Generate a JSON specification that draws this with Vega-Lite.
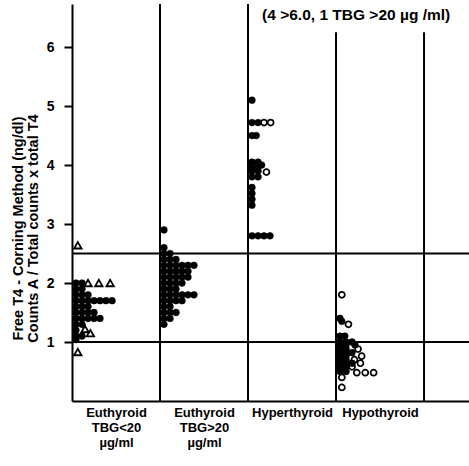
{
  "$schema": "https://vega.github.io/schema/vega-lite/v6.json",
  "autosize": {"type": "none"},
  "padding": {"left": 72, "top": 4, "right": 0, "bottom": 61},
  "width": 397,
  "height": 397,
  "background": "white",
  "config": {
    "view": {"stroke": null},
    "font": "Liberation Sans",
    "axis": {"labelFont": "Liberation Sans", "titleFont": "Liberation Sans", "labelColor": "black", "titleColor": "black", "domainColor": "black", "tickColor": "black"}
  },
  "datasets": {
    "pts": [
      {"g":"g1","x":0.066,"v":2.64,"t":"tri"},
      {"g":"g1","x":0.045,"v":2.0,"t":"f"},{"g":"g1","x":0.114,"v":2.0,"t":"f"},
      {"g":"g1","x":0.182,"v":2.0,"t":"tri"},{"g":"g1","x":0.305,"v":2.0,"t":"tri"},{"g":"g1","x":0.434,"v":2.0,"t":"tri"},
      {"g":"g1","x":0.045,"v":1.9,"t":"f"},{"g":"g1","x":0.114,"v":1.9,"t":"f"},
      {"g":"g1","x":0.045,"v":1.8,"t":"f"},{"g":"g1","x":0.114,"v":1.8,"t":"f"},{"g":"g1","x":0.182,"v":1.8,"t":"f"},
      {"g":"g1","x":0.045,"v":1.7,"t":"f"},{"g":"g1","x":0.114,"v":1.7,"t":"f"},{"g":"g1","x":0.182,"v":1.7,"t":"f"},{"g":"g1","x":0.25,"v":1.7,"t":"f"},{"g":"g1","x":0.318,"v":1.7,"t":"f"},{"g":"g1","x":0.386,"v":1.7,"t":"f"},{"g":"g1","x":0.455,"v":1.7,"t":"f"},
      {"g":"g1","x":0.045,"v":1.6,"t":"f"},{"g":"g1","x":0.114,"v":1.6,"t":"f"},{"g":"g1","x":0.182,"v":1.6,"t":"f"},
      {"g":"g1","x":0.045,"v":1.5,"t":"f"},{"g":"g1","x":0.114,"v":1.5,"t":"f"},{"g":"g1","x":0.182,"v":1.5,"t":"f"},{"g":"g1","x":0.25,"v":1.5,"t":"f"},
      {"g":"g1","x":0.045,"v":1.4,"t":"f"},{"g":"g1","x":0.114,"v":1.4,"t":"f"},{"g":"g1","x":0.182,"v":1.4,"t":"f"},{"g":"g1","x":0.25,"v":1.4,"t":"f"},{"g":"g1","x":0.318,"v":1.4,"t":"f"},
      {"g":"g1","x":0.045,"v":1.3,"t":"f"},{"g":"g1","x":0.114,"v":1.3,"t":"f"},
      {"g":"g1","x":0.045,"v":1.2,"t":"f"},{"g":"g1","x":0.148,"v":1.22,"t":"tri"},
      {"g":"g1","x":0.209,"v":1.15,"t":"tri"},
      {"g":"g1","x":0.045,"v":1.1,"t":"f"},{"g":"g1","x":0.114,"v":1.1,"t":"f"},
      {"g":"g1","x":0.045,"v":1.04,"t":"f"},
      {"g":"g1","x":0.066,"v":0.83,"t":"tri"},

      {"g":"g2","x":1.045,"v":2.9,"t":"f"},
      {"g":"g2","x":1.045,"v":2.6,"t":"f"},
      {"g":"g2","x":1.045,"v":2.5,"t":"f"},{"g":"g2","x":1.114,"v":2.5,"t":"f"},
      {"g":"g2","x":1.045,"v":2.4,"t":"f"},{"g":"g2","x":1.114,"v":2.4,"t":"f"},{"g":"g2","x":1.182,"v":2.4,"t":"f"},
      {"g":"g2","x":1.045,"v":2.3,"t":"f"},{"g":"g2","x":1.114,"v":2.3,"t":"f"},{"g":"g2","x":1.182,"v":2.3,"t":"f"},{"g":"g2","x":1.25,"v":2.3,"t":"f"},{"g":"g2","x":1.318,"v":2.3,"t":"f"},{"g":"g2","x":1.386,"v":2.3,"t":"f"},
      {"g":"g2","x":1.045,"v":2.2,"t":"f"},{"g":"g2","x":1.114,"v":2.2,"t":"f"},{"g":"g2","x":1.182,"v":2.2,"t":"f"},{"g":"g2","x":1.25,"v":2.2,"t":"f"},{"g":"g2","x":1.318,"v":2.2,"t":"f"},
      {"g":"g2","x":1.045,"v":2.1,"t":"f"},{"g":"g2","x":1.114,"v":2.1,"t":"f"},{"g":"g2","x":1.182,"v":2.1,"t":"f"},{"g":"g2","x":1.25,"v":2.1,"t":"f"},{"g":"g2","x":1.318,"v":2.1,"t":"f"},
      {"g":"g2","x":1.045,"v":2.0,"t":"f"},{"g":"g2","x":1.114,"v":2.0,"t":"f"},{"g":"g2","x":1.182,"v":2.0,"t":"f"},{"g":"g2","x":1.25,"v":2.0,"t":"f"},
      {"g":"g2","x":1.045,"v":1.9,"t":"f"},{"g":"g2","x":1.114,"v":1.9,"t":"f"},{"g":"g2","x":1.182,"v":1.9,"t":"f"},
      {"g":"g2","x":1.045,"v":1.8,"t":"f"},{"g":"g2","x":1.114,"v":1.8,"t":"f"},{"g":"g2","x":1.182,"v":1.8,"t":"f"},{"g":"g2","x":1.25,"v":1.8,"t":"f"},{"g":"g2","x":1.318,"v":1.8,"t":"f"},{"g":"g2","x":1.386,"v":1.8,"t":"f"},
      {"g":"g2","x":1.045,"v":1.7,"t":"f"},{"g":"g2","x":1.114,"v":1.7,"t":"f"},{"g":"g2","x":1.182,"v":1.7,"t":"f"},{"g":"g2","x":1.25,"v":1.7,"t":"f"},
      {"g":"g2","x":1.045,"v":1.6,"t":"f"},{"g":"g2","x":1.114,"v":1.6,"t":"f"},
      {"g":"g2","x":1.045,"v":1.5,"t":"f"},{"g":"g2","x":1.114,"v":1.5,"t":"f"},{"g":"g2","x":1.182,"v":1.5,"t":"f"},
      {"g":"g2","x":1.045,"v":1.4,"t":"f"},{"g":"g2","x":1.114,"v":1.4,"t":"f"},
      {"g":"g2","x":1.045,"v":1.3,"t":"f"},

      {"g":"g3","x":2.045,"v":5.1,"t":"f"},
      {"g":"g3","x":2.045,"v":4.72,"t":"f"},{"g":"g3","x":2.114,"v":4.72,"t":"f"},{"g":"g3","x":2.182,"v":4.72,"t":"o"},{"g":"g3","x":2.257,"v":4.72,"t":"o"},
      {"g":"g3","x":2.045,"v":4.5,"t":"f"},{"g":"g3","x":2.093,"v":4.5,"t":"f"},
      {"g":"g3","x":2.045,"v":4.05,"t":"f"},{"g":"g3","x":2.114,"v":4.05,"t":"f"},{"g":"g3","x":2.155,"v":4.0,"t":"f"},
      {"g":"g3","x":2.045,"v":3.97,"t":"f"},{"g":"g3","x":2.114,"v":3.97,"t":"f"},
      {"g":"g3","x":2.045,"v":3.9,"t":"f"},{"g":"g3","x":2.114,"v":3.9,"t":"f"},{"g":"g3","x":2.209,"v":3.88,"t":"o"},
      {"g":"g3","x":2.045,"v":3.8,"t":"f"},{"g":"g3","x":2.114,"v":3.8,"t":"f"},
      {"g":"g3","x":2.045,"v":3.62,"t":"f"},{"g":"g3","x":2.045,"v":3.52,"t":"f"},{"g":"g3","x":2.045,"v":3.42,"t":"f"},{"g":"g3","x":2.045,"v":3.32,"t":"f"},
      {"g":"g3","x":2.045,"v":2.8,"t":"f"},{"g":"g3","x":2.114,"v":2.8,"t":"f"},{"g":"g3","x":2.182,"v":2.8,"t":"f"},{"g":"g3","x":2.25,"v":2.8,"t":"f"},

      {"g":"g4","x":3.066,"v":1.8,"t":"o"},
      {"g":"g4","x":3.045,"v":1.4,"t":"f"},{"g":"g4","x":3.066,"v":1.35,"t":"f"},{"g":"g4","x":3.141,"v":1.3,"t":"o"},
      {"g":"g4","x":3.045,"v":1.1,"t":"f"},{"g":"g4","x":3.1,"v":1.1,"t":"f"},
      {"g":"g4","x":3.045,"v":1.0,"t":"f"},{"g":"g4","x":3.114,"v":1.0,"t":"f"},{"g":"g4","x":3.182,"v":1.0,"t":"f"},
      {"g":"g4","x":3.045,"v":0.95,"t":"f"},{"g":"g4","x":3.114,"v":0.95,"t":"f"},{"g":"g4","x":3.216,"v":0.95,"t":"f"},
      {"g":"g4","x":3.045,"v":0.88,"t":"f"},{"g":"g4","x":3.114,"v":0.88,"t":"f"},{"g":"g4","x":3.25,"v":0.88,"t":"o"},
      {"g":"g4","x":3.045,"v":0.82,"t":"f"},{"g":"g4","x":3.114,"v":0.82,"t":"f"},{"g":"g4","x":3.182,"v":0.82,"t":"f"},
      {"g":"g4","x":3.045,"v":0.76,"t":"f"},{"g":"g4","x":3.114,"v":0.76,"t":"f"},{"g":"g4","x":3.291,"v":0.76,"t":"o"},
      {"g":"g4","x":3.045,"v":0.7,"t":"f"},{"g":"g4","x":3.114,"v":0.7,"t":"f"},{"g":"g4","x":3.209,"v":0.7,"t":"o"},
      {"g":"g4","x":3.045,"v":0.64,"t":"f"},{"g":"g4","x":3.114,"v":0.64,"t":"f"},{"g":"g4","x":3.182,"v":0.64,"t":"f"},{"g":"g4","x":3.277,"v":0.64,"t":"o"},
      {"g":"g4","x":3.045,"v":0.58,"t":"f"},{"g":"g4","x":3.114,"v":0.58,"t":"f"},{"g":"g4","x":3.182,"v":0.58,"t":"o"},
      {"g":"g4","x":3.045,"v":0.5,"t":"f"},{"g":"g4","x":3.114,"v":0.5,"t":"f"},{"g":"g4","x":3.236,"v":0.48,"t":"o"},{"g":"g4","x":3.332,"v":0.48,"t":"o"},{"g":"g4","x":3.427,"v":0.48,"t":"o"},
      {"g":"g4","x":3.066,"v":0.4,"t":"o"},
      {"g":"g4","x":3.066,"v":0.23,"t":"o"}
    ]
  },
  "layer": [
    {
      "data": {"values": [{"y": 1}, {"y": 2.5}]},
      "mark": {"type": "rule", "stroke": "black", "strokeWidth": 2},
      "encoding": {"y": {"field": "y", "type": "quantitative"}}
    },
    {
      "data": {"values": [{"x": 1, "bottom": 0, "top": 6.73}, {"x": 2, "bottom": 0, "top": 6.73}, {"x": 3, "bottom": 0, "top": 6.25}, {"x": 4, "bottom": 0, "top": 6.25}]},
      "mark": {"type": "rule", "stroke": "black", "strokeWidth": 2},
      "encoding": {
        "x": {"field": "x", "type": "quantitative"},
        "y": {"field": "bottom", "type": "quantitative"},
        "y2": {"field": "top"}
      }
    },
    {
      "data": {"name": "pts"},
      "transform": [{"filter": "datum.t == 'f'"}],
      "mark": {"type": "point", "shape": "circle", "filled": true, "fill": "black", "stroke": "black", "strokeWidth": 0.5, "size": 46, "opacity": 1},
      "encoding": {
        "x": {
          "field": "x", "type": "quantitative",
          "scale": {"domain": [0, 4.511], "nice": false, "zero": false},
          "axis": {
            "title": null, "ticks": false, "grid": false, "domainWidth": 2, "labelAngle": 0,
            "values": [0.5, 1.5, 2.5, 3.5],
            "labelFontWeight": "bold", "labelFontSize": 13, "labelLineHeight": 15, "labelPadding": 5, "labelFlush": false, "labelOverlap": false,
            "labelExpr": "datum.value == 0.5 ? ['Euthyroid', 'TBG<20', 'µg/ml'] : datum.value == 1.5 ? ['Euthyroid', 'TBG>20', 'µg/ml'] : datum.value == 2.5 ? 'Hyperthyroid' : 'Hypothyroid'"
          }
        },
        "y": {
          "field": "v", "type": "quantitative",
          "scale": {"domain": [0, 6.73], "nice": false, "zero": true},
          "axis": {
            "values": [1, 2, 3, 4, 5, 6], "format": "d", "grid": false, "domainWidth": 2, "tickWidth": 2, "tickSize": 8,
            "labelFontWeight": "bold", "labelFontSize": 14, "labelPadding": 10,
            "title": ["Free T4 - Corning Method (ng/dl)", "Counts A / Total counts x total T4"],
            "titleFontWeight": "bold", "titleFontSize": 14.5, "titleLineHeight": 15, "titleLimit": 1000, "titleY": 224, "titleX": -47
          }
        }
      }
    },
    {
      "data": {"name": "pts"},
      "transform": [{"filter": "datum.t == 'o'"}],
      "mark": {"type": "point", "shape": "circle", "filled": false, "stroke": "black", "strokeWidth": 1.7, "size": 36, "opacity": 1},
      "encoding": {
        "x": {"field": "x", "type": "quantitative"},
        "y": {"field": "v", "type": "quantitative"}
      }
    },
    {
      "data": {"name": "pts"},
      "transform": [{"filter": "datum.t == 'tri'"}],
      "mark": {"type": "point", "shape": "triangle-up", "filled": false, "stroke": "black", "strokeWidth": 1.8, "size": 55, "opacity": 1},
      "encoding": {
        "x": {"field": "x", "type": "quantitative"},
        "y": {"field": "v", "type": "quantitative"}
      }
    },
    {
      "data": {"values": [{"label": "(4 >6.0,  1  TBG >20 µg /ml)", "x": 2.16, "y": 6.54}]},
      "mark": {"type": "text", "align": "left", "baseline": "middle", "fontWeight": "bold", "fontSize": 15.5, "font": "Liberation Sans"},
      "encoding": {
        "x": {"field": "x", "type": "quantitative"},
        "y": {"field": "y", "type": "quantitative"},
        "text": {"field": "label"}
      }
    }
  ]
}
